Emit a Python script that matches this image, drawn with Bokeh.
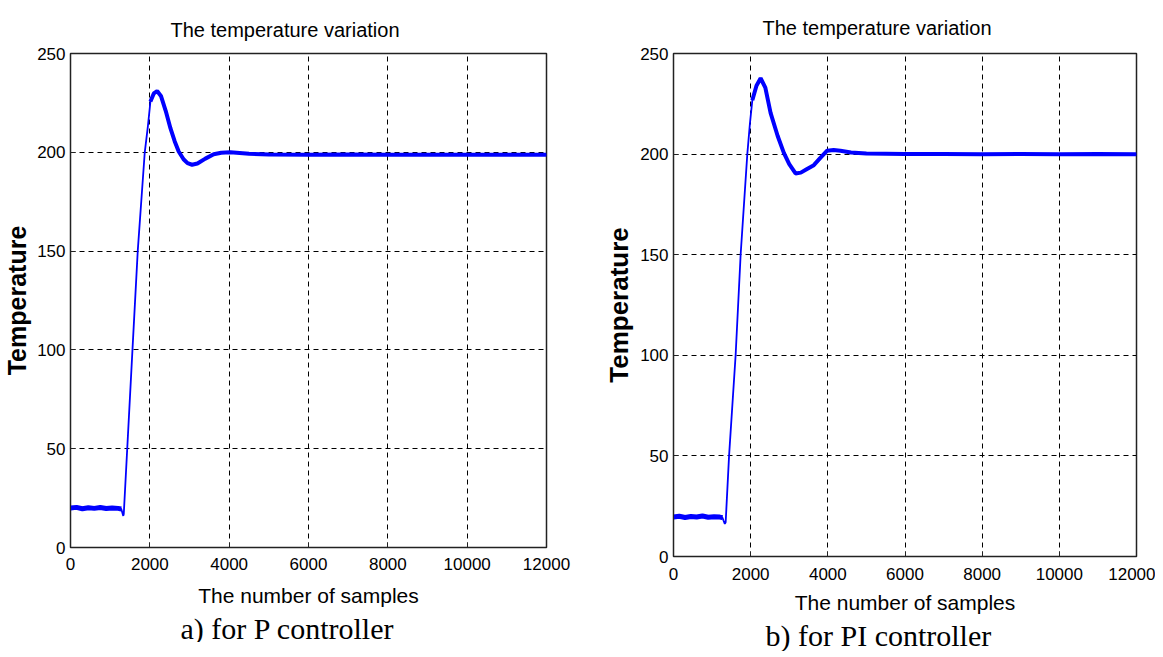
from bokeh.plotting import figure
from bokeh.models import Range1d, Title, FixedTicker
from bokeh.layouts import row
from bokeh.embed import file_html
from bokeh.resources import INLINE

# ---------------- data ----------------
samples_p = [0, 150, 300, 450, 600, 750, 900, 1050, 1200, 1280, 1302, 1330, 1343,
             1430, 1562, 1695, 1872, 1950, 2015, 2100, 2184, 2280, 2400, 2519,
             2628, 2728, 2850, 2950, 3065, 3200, 3400, 3610, 3800, 4030, 4500,
             5000, 6000, 7000, 8000, 9000, 10000, 11000, 12000]
temp_p = [20.0, 20.3, 19.6, 20.1, 19.8, 20.2, 19.7, 20.0, 19.8, 19.5, 18.0, 16.0, 17.0,
          50.0, 100.0, 150.0, 200.0, 213.0, 225.7, 229.8, 231.0, 228.5, 221.0, 212.2,
          205.5, 200.4, 196.5, 194.5, 193.7, 194.3, 196.8, 199.0, 199.8, 200.0, 199.3,
          198.9, 198.8, 198.9, 198.7, 198.8, 198.7, 198.8, 198.7]

samples_pi = [0, 150, 300, 450, 600, 750, 900, 1050, 1200, 1270, 1293, 1330, 1352,
              1440, 1610, 1740, 1913, 1980, 2043, 2150, 2258, 2380, 2516, 2700,
              2860, 3000, 3163, 3300, 3450, 3636, 3800, 3982, 4150, 4326, 4600,
              5000, 6000, 7000, 8000, 9000, 10000, 11000, 12000]
temp_pi = [19.6, 20.0, 19.4, 19.9, 19.6, 20.1, 19.5, 19.8, 19.6, 19.3, 18.0, 16.2, 17.0,
           50.0, 100.0, 150.0, 200.0, 215.0, 226.8, 234.0, 237.7, 233.0, 220.5, 209.0,
           200.6, 195.0, 190.4, 190.8, 192.5, 194.5, 198.0, 201.7, 202.0, 201.7, 200.8,
           200.3, 200.0, 200.1, 199.9, 200.0, 199.9, 200.0, 199.9]

x_ticks = [0, 2000, 4000, 6000, 8000, 10000, 12000]
y_ticks = [0, 50, 100, 150, 200, 250]

titles = ["The temperature variation", "The temperature variation"]
captions = ["a) for P controller", "b) for PI controller"]
x_label = "The number of samples"
y_label = "Temperature"

SANS = "Liberation Sans"
SERIF = "Liberation Serif"


def make(samples, temps, title, caption, frame_w, frame_h, borders, title_off,
         title_standoff, tick_standoff, xlab_standoff, ylab_standoff, ylab_size,
         cap_off, cap_standoff, cap_size, step_end, band_start):
    left, right, top = borders
    p = figure(frame_width=frame_w, frame_height=frame_h,
               x_range=Range1d(0, 12000), y_range=Range1d(0, 250),
               output_backend="svg", toolbar_location=None,
               min_border_left=left, min_border_right=right,
               min_border_top=top, min_border_bottom=0,
               background_fill_color="white", border_fill_color="white")
    p.title = Title(text=title, align="left", offset=title_off,
                    text_font=SANS, text_font_size="20px",
                    text_font_style="normal", text_color="black",
                    standoff=title_standoff)

    for ax, ticks in ((p.xaxis, x_ticks), (p.yaxis, y_ticks)):
        ax.ticker = FixedTicker(ticks=ticks)
        ax.major_label_text_font = SANS
        ax.major_label_text_font_size = "17px"
        ax.major_label_text_color = "black"
        ax.major_tick_in = 5
        ax.major_tick_out = 0
        ax.minor_tick_line_color = None
        ax.axis_line_color = "#222222"
        ax.major_tick_line_color = "#222222"
    p.xaxis.major_label_standoff = tick_standoff
    p.yaxis.major_label_standoff = 5

    p.xaxis.axis_label = x_label
    p.xaxis.axis_label_text_font = SANS
    p.xaxis.axis_label_text_font_size = "21px"
    p.xaxis.axis_label_text_font_style = "normal"
    p.xaxis.axis_label_text_color = "black"
    p.xaxis.axis_label_standoff = xlab_standoff

    p.yaxis.axis_label = y_label
    p.yaxis.axis_label_text_font = SANS
    p.yaxis.axis_label_text_font_size = ylab_size
    p.yaxis.axis_label_text_font_style = "bold"
    p.yaxis.axis_label_text_color = "black"
    p.yaxis.axis_label_standoff = ylab_standoff

    p.grid.grid_line_color = "black"
    p.grid.grid_line_dash = "5 4"
    p.grid.grid_line_width = 1
    p.xgrid.ticker = FixedTicker(ticks=x_ticks[1:-1])
    p.ygrid.ticker = FixedTicker(ticks=y_ticks[1:-1])

    p.outline_line_color = "#222222"
    p.outline_line_width = 1.5

    # thin trace
    p.line(samples, temps, line_color="#0000FF", line_width=1.8)
    # noisy bands (drawn thicker)
    p.line(samples[:step_end], temps[:step_end], line_color="#0000FF", line_width=5)
    p.line(samples[band_start:], temps[band_start:], line_color="#0000FF", line_width=4)

    p.add_layout(Title(text=caption, align="left", offset=cap_off,
                       text_font=SERIF, text_font_size=cap_size,
                       text_font_style="normal", text_color="black",
                       standoff=cap_standoff),
                 "below")
    return p


p1 = make(samples_p, temp_p, titles[0], captions[0], 476, 494,
          (62, 44, 51), 100, 25, 10, 11, 3, "25px", 110, 0, "30px", 10, 18)
p2 = make(samples_pi, temp_pi, titles[1], captions[1], 463, 503,
          (83, 19, 51), 89, 29, 11, 8, 3, "26px", 92, 0, "30px", 10, 18)

layout = row(p1, p2)
open("out.html", "w").write(file_html(layout, INLINE))
